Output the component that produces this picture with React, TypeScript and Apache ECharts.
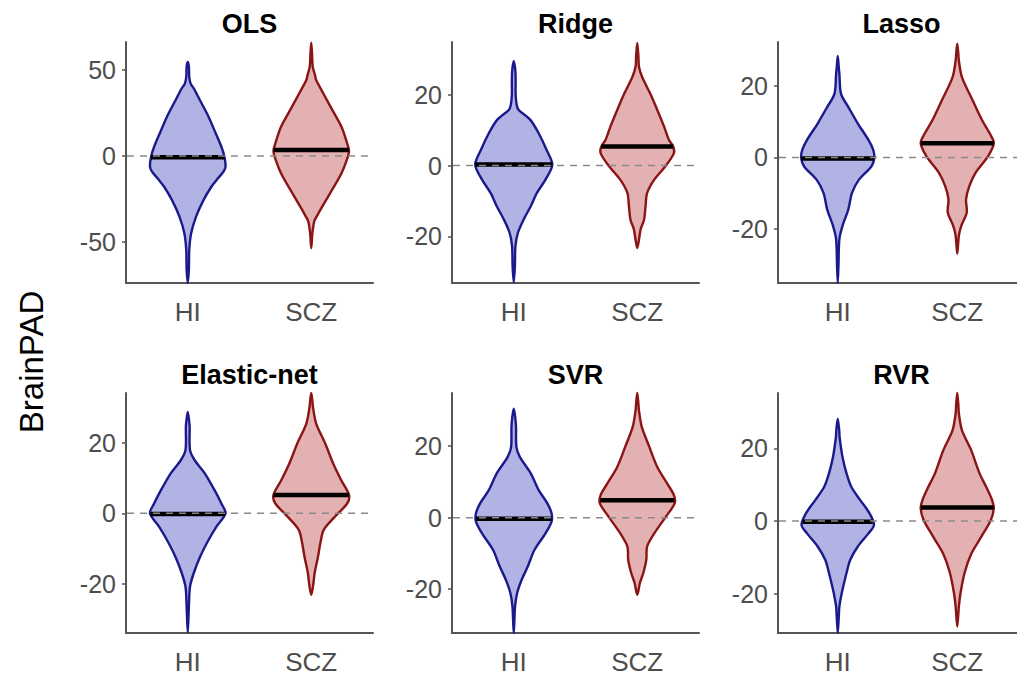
import React, { useEffect, useRef } from 'react';
import * as echarts from 'echarts';

// ---------- data ----------
const CATEGORIES = ['HI', 'SCZ'];
const PANEL_TITLES = ['OLS', 'Ridge', 'Lasso', 'Elastic-net', 'SVR', 'RVR'];
const Y_MIN = [-74, -33.2, -35.1, -34.1, -32.3, -30.8];
const Y_MAX = [66.4, 34.9, 32.3, 34.3, 34.9, 35.2];
const Y_TICKS = [[-50, 0, 50], [-20, 0, 20], [-20, 0, 20], [-20, 0, 20], [-20, 0, 20], [-20, 0, 20]];
const MEDIAN_HI = [-0.8, 0.3, -0.3, -0.2, -0.3, -0.2];
const MEDIAN_SCZ = [3.5, 5.4, 4.0, 5.2, 4.9, 3.7];

// violin profiles: [BrainPAD value, relative density width], top to bottom
const OLS_HI = [[54.8, 0], [52, 0.03], [46, 0.04], [42, 0.08], [39, 0.17], [32.6, 0.32], [22.9, 0.55], [13.2, 0.74], [5.4, 0.89], [-0.4, 0.97], [-6.2, 1.0], [-9, 0.95], [-13, 0.8], [-17.8, 0.63], [-25.6, 0.42], [-35.3, 0.22], [-45, 0.09], [-54.7, 0.04], [-66, 0.03], [-74, 0]];
const OLS_SCZ = [[66, 0], [60, 0.02], [52, 0.04], [47, 0.1], [44.2, 0.13], [36.4, 0.32], [26.7, 0.56], [17, 0.8], [7.4, 0.95], [3.1, 1.0], [-0.4, 0.97], [-10.1, 0.8], [-19.8, 0.55], [-29.5, 0.29], [-35, 0.15], [-38, 0.08], [-45, 0.03], [-53.7, 0]];
const RIDGE_HI = [[29.5, 0], [27, 0.04], [24, 0.05], [20, 0.05], [17, 0.08], [15.7, 0.13], [12.9, 0.44], [9.1, 0.66], [4.4, 0.87], [0.2, 1.02], [-4, 0.84], [-7.8, 0.61], [-11.5, 0.45], [-15.3, 0.26], [-19, 0.11], [-22.8, 0.045], [-28.5, 0.03], [-33, 0]];
const RIDGE_SCZ = [[34.6, 0], [31, 0.03], [27.9, 0.045], [25, 0.13], [20.4, 0.34], [15.7, 0.53], [11, 0.71], [7.2, 0.84], [5.4, 0.95], [3.5, 0.97], [-0.3, 0.74], [-4, 0.45], [-7.8, 0.26], [-11.5, 0.22], [-15.3, 0.18], [-18, 0.09], [-21, 0.045], [-23.3, 0]];
const LASSO_HI = [[28.4, 0], [25, 0.03], [23.3, 0.045], [17.8, 0.09], [14.1, 0.29], [9.5, 0.55], [4.9, 0.84], [2.1, 0.97], [-0.2, 1.0], [-2.5, 0.92], [-6.2, 0.58], [-9.9, 0.39], [-14.5, 0.29], [-19.1, 0.13], [-22.8, 0.045], [-30, 0.02], [-35, 0]];
const LASSO_SCZ = [[31.8, 0], [29, 0.03], [27, 0.045], [22.4, 0.13], [16, 0.42], [10.4, 0.68], [6.7, 0.89], [4, 1.0], [0.3, 0.84], [-4.3, 0.5], [-8, 0.33], [-11.7, 0.24], [-15.4, 0.26], [-19.1, 0.11], [-21.8, 0.045], [-26.9, 0]];
const ENET_HI = [[28.9, 0], [26, 0.04], [24.6, 0.05], [18, 0.06], [15.2, 0.18], [11.4, 0.45], [6.6, 0.71], [2.8, 0.89], [0, 1.0], [-3.8, 0.76], [-7.6, 0.55], [-12.3, 0.33], [-17, 0.16], [-20.9, 0.06], [-26.5, 0.03], [-34, 0]];
const ENET_SCZ = [[34.3, 0], [32, 0.03], [30.3, 0.045], [25.6, 0.13], [19.9, 0.37], [14.2, 0.58], [9.5, 0.79], [5.2, 1.0], [2.8, 0.95], [-0.9, 0.63], [-4.7, 0.33], [-8.5, 0.24], [-12.3, 0.18], [-17, 0.09], [-20.9, 0.045], [-23.2, 0]];
const SVR_HI = [[30.5, 0], [28, 0.04], [25.4, 0.06], [19.8, 0.07], [17, 0.16], [12.4, 0.45], [7.7, 0.66], [4, 0.89], [1.2, 1.0], [-1.1, 1.0], [-4.4, 0.84], [-9, 0.55], [-13.7, 0.37], [-17.4, 0.21], [-21.1, 0.09], [-24.8, 0.035], [-32.3, 0]];
const SVR_SCZ = [[34.9, 0], [32, 0.03], [30, 0.045], [25.4, 0.12], [19.8, 0.32], [14.2, 0.53], [9.6, 0.79], [6.3, 0.97], [4, 0.99], [0.3, 0.76], [-4.4, 0.45], [-8.1, 0.26], [-11.8, 0.24], [-15.5, 0.16], [-18.3, 0.07], [-21.6, 0]];
const RVR_HI = [[28.1, 0], [25, 0.04], [23.1, 0.05], [17.6, 0.13], [13.1, 0.24], [9.4, 0.37], [5.8, 0.61], [2.1, 0.87], [-1.1, 0.99], [-3.4, 0.84], [-7, 0.55], [-10.7, 0.34], [-14.3, 0.24], [-19.8, 0.11], [-23.5, 0.045], [-26, 0.03], [-30.8, 0]];
const RVR_SCZ = [[35.2, 0], [32, 0.03], [29.5, 0.045], [24.9, 0.13], [19.5, 0.38], [13.1, 0.61], [9.4, 0.79], [5.8, 0.95], [3.5, 1.0], [0.3, 0.92], [-4.3, 0.66], [-8.9, 0.39], [-14.3, 0.2], [-19.8, 0.09], [-23.5, 0.045], [-29, 0]];

const PROFILES = [
  [OLS_HI, OLS_SCZ],
  [RIDGE_HI, RIDGE_SCZ],
  [LASSO_HI, LASSO_SCZ],
  [ENET_HI, ENET_SCZ],
  [SVR_HI, SVR_SCZ],
  [RVR_HI, RVR_SCZ],
];

// ---------- styling / layout ----------
const FONT = '"Liberation Sans", Arial, Helvetica, sans-serif';
const FILLS = ['#b1b3e5', '#e3b1b1'];
const STROKES = ['#1a1a8c', '#8b1414'];
const AXIS_COLOR = '#555555';
const LABEL_COLOR = '#4d4d4d';
const LEFTS = [126, 452, 778];
const TOPS = [42, 393];
const HEIGHTS = [241, 240];
const WIDTH = 247;
const MAX_HALF = 0.306; // fraction of category band

function densityAt(prof: number[][], v: number): number {
  for (let k = 0; k < prof.length - 1; k++) {
    const [a, da] = prof[k];
    const [b, db] = prof[k + 1];
    if (v <= a && v >= b) {
      const t = (a - v) / (a - b);
      return da + (db - da) * t;
    }
  }
  return 0;
}

function buildOption() {
  const grid: any[] = [];
  const xAxis: any[] = [];
  const yAxis: any[] = [];
  const series: any[] = [];
  const title: any[] = [];

  PANEL_TITLES.forEach((name, p) => {
    const row = Math.floor(p / 3);
    const col = p % 3;
    const left = LEFTS[col];
    const top = TOPS[row];
    const height = HEIGHTS[row];
    grid.push({ left, top, width: WIDTH, height, containLabel: false });
    title.push({
      text: name,
      left: left + WIDTH / 2,
      top: top - 32,
      textAlign: 'center',
      padding: 0,
      textStyle: { fontSize: 27, fontWeight: 'bold', color: '#000', fontFamily: FONT },
    });
    xAxis.push({
      type: 'category',
      gridIndex: p,
      data: CATEGORIES,
      boundaryGap: true,
      axisLine: { onZero: false, lineStyle: { color: AXIS_COLOR, width: 2 } },
      axisTick: { alignWithLabel: true, length: 4, lineStyle: { color: AXIS_COLOR, width: 1.5 } },
      axisLabel: { fontSize: 26, color: LABEL_COLOR, margin: 16, fontFamily: FONT },
      splitLine: { show: false },
    });
    yAxis.push({
      type: 'value',
      gridIndex: p,
      min: Y_MIN[p],
      max: Y_MAX[p],
      axisLine: { show: true, onZero: false, lineStyle: { color: AXIS_COLOR, width: 2 } },
      axisTick: { show: true, length: 4, customValues: Y_TICKS[p], lineStyle: { color: AXIS_COLOR, width: 1.5 } },
      axisLabel: { fontSize: 25, color: LABEL_COLOR, margin: 10, fontFamily: FONT, customValues: Y_TICKS[p] },
      splitLine: { show: false },
    });

    const profs = PROFILES[p];
    series.push({
      type: 'custom',
      xAxisIndex: p,
      yAxisIndex: p,
      z: 2,
      data: [[0, MEDIAN_HI[p]], [1, MEDIAN_SCZ[p]]],
      encode: { x: 0, y: 1 },
      renderItem: (params: any, api: any) => {
        const i = params.dataIndex;
        const cat = api.value(0);
        const med = api.value(1);
        const band = api.size([1, 0])[0];
        const half = band * MAX_HALF;
        const prof = profs[i];
        const cx = api.coord([cat, 0])[0];
        const leftPts = prof.map(([v, d]) => [cx - d * half, api.coord([cat, v])[1]]);
        const rightPts = prof.slice().reverse().map(([v, d]) => [cx + d * half, api.coord([cat, v])[1]]);
        const pts = leftPts.concat(rightPts.slice(1, -1));
        const md = densityAt(prof, med) * half;
        const my = api.coord([cat, med])[1];
        return {
          type: 'group',
          children: [
            {
              type: 'polygon',
              shape: { points: pts, smooth: 0.3 },
              style: { fill: FILLS[i], stroke: STROKES[i], lineWidth: 2.4 },
            },
            {
              type: 'line',
              shape: { x1: cx - md, y1: my, x2: cx + md, y2: my },
              style: { stroke: '#000', lineWidth: 4.5 },
            },
          ],
        };
      },
    });
    series.push({
      type: 'custom',
      xAxisIndex: p,
      yAxisIndex: p,
      z: 3,
      data: [[0, 0]],
      encode: { x: 0, y: 1 },
      renderItem: (params: any, api: any) => {
        const cs = params.coordSys;
        const y = api.coord([0, api.value(1)])[1];
        return {
          type: 'line',
          shape: { x1: cs.x + 1, y1: y, x2: cs.x + cs.width, y2: y },
          style: { stroke: '#8a8a8a', lineWidth: 1.5, lineDash: [7, 6] },
        };
      },
    });
  });

  return {
    animation: false,
    backgroundColor: '#ffffff',
    title,
    grid,
    xAxis,
    yAxis,
    series,
    graphic: [
      {
        type: 'text',
        x: 31,
        y: 362,
        rotation: Math.PI / 2,
        style: {
          text: 'BrainPAD',
          fontSize: 33,
          fontFamily: FONT,
          fill: '#000',
          align: 'center',
          verticalAlign: 'middle',
          textAlign: 'center',
          textVerticalAlign: 'middle',
        },
      },
    ],
  };
}

export default function App() {
  const ref = useRef<HTMLDivElement>(null);
  useEffect(() => {
    const chart = echarts.init(ref.current!, null, { renderer: 'svg' });
    chart.setOption(buildOption() as any);
    return () => chart.dispose();
  }, []);
  return (
    <div
      ref={ref}
      style={{ position: 'absolute', left: 0, top: 0, width: 1017, height: 677, background: '#fff' }}
    />
  );
}
